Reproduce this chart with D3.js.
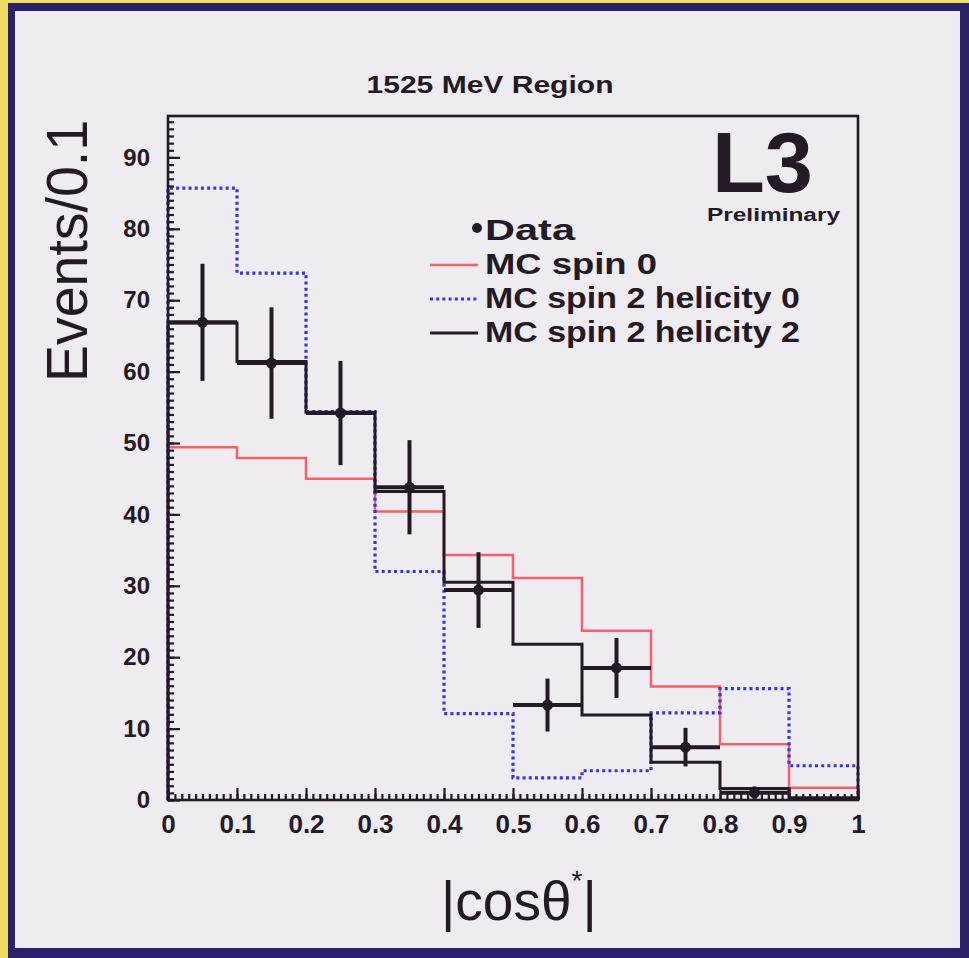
<!DOCTYPE html>
<html>
<head>
<meta charset="utf-8">
<script src="https://cdn.jsdelivr.net/npm/d3@7"></script>
<style>
  html, body { margin: 0; padding: 0; background: #f0dc64; }
  svg { display: block; }
  text { font-family: "Liberation Sans", Arial, Helvetica, sans-serif; fill: #241a25; }
</style>
</head>
<body>
<div id="chart"></div>
<script>
// bins of |cos theta*|, width 0.1
const binLow = [0, 0.1, 0.2, 0.3, 0.4, 0.5, 0.6, 0.7, 0.8, 0.9];
const mcSpin0 = [49.4, 47.9, 45.0, 40.4, 34.3, 31.1, 23.7, 15.9, 7.8, 1.7];
const mcSpin2Hel0 = [85.7, 73.8, 54.4, 32.0, 12.1, 3.1, 4.1, 12.2, 15.6, 4.8];
const mcSpin2Hel2 = [66.8, 61.4, 54.3, 43.2, 30.5, 21.8, 11.9, 5.3, 1.6, 0.3];

// data points (bin centres)
const dataX = [0.05, 0.15, 0.25, 0.35, 0.45, 0.55, 0.65, 0.75, 0.85];
const dataY = [66.9, 61.2, 54.2, 43.8, 29.4, 13.3, 18.5, 7.4, 1.0];
const dataErr = [8.2, 7.8, 7.3, 6.6, 5.3, 3.7, 4.2, 2.7, 0.9];

const xTicks = [0, 0.1, 0.2, 0.3, 0.4, 0.5, 0.6, 0.7, 0.8, 0.9, 1];
const yTicks = [0, 10, 20, 30, 40, 50, 60, 70, 80, 90];

const legendItems = [
  { label: "Data", kind: "dot" },
  { label: "MC spin 0", kind: "red" },
  { label: "MC spin 2 helicity 0", kind: "blue" },
  { label: "MC spin 2 helicity 2", kind: "black" }
];

const W = 969, H = 958;
const INK = "#241a25";
const RED = "#f4606c";
const BLUE = "#3a34e0";

const svg = d3.select("#chart").append("svg")
  .attr("width", W)
  .attr("height", H);

// yellow slide background, navy frame, pale panel
svg.append("rect").attr("width", W).attr("height", H).attr("fill", "#f0dc64");
svg.append("rect").attr("x", 8).attr("y", 3).attr("width", W - 8).attr("height", H - 3).attr("fill", "#2a2268");
svg.append("rect").attr("x", 15).attr("y", 11).attr("width", 945).attr("height", 937).attr("fill", "#eeebf1");

const x = d3.scaleLinear().domain([0, 1]).range([168, 858]);
const y = d3.scaleLinear().domain([0, 95.8]).range([800, 116]);

// title
svg.append("text")
  .attr("x", 490).attr("y", 93)
  .attr("text-anchor", "middle")
  .attr("font-size", 24).attr("font-weight", "bold")
  .attr("textLength", 247).attr("lengthAdjust", "spacingAndGlyphs")
  .text("1525 MeV Region");

const plot = svg.append("g");

// histograms
function histPoints(vals) {
  const pts = [[0, 0]];
  binLow.forEach((b, i) => pts.push([b, vals[i]]));
  pts.push([1, vals[vals.length - 1]]);
  pts.push([1, 0]);
  return pts;
}
const stepLine = d3.line()
  .x(d => x(d[0]))
  .y(d => y(d[1]))
  .curve(d3.curveStepAfter);

plot.append("path")
  .attr("d", stepLine(histPoints(mcSpin0)))
  .attr("fill", "none").attr("stroke", RED).attr("stroke-width", 2.5);

plot.append("path")
  .attr("d", stepLine(histPoints(mcSpin2Hel0)))
  .attr("fill", "none").attr("stroke", BLUE).attr("stroke-width", 3.2)
  .attr("stroke-dasharray", "3,3.2");

plot.append("path")
  .attr("d", stepLine(histPoints(mcSpin2Hel2)))
  .attr("fill", "none").attr("stroke", INK).attr("stroke-width", 3);

// data with error bars
const pts = plot.selectAll("g.pt")
  .data(dataX.map((d, i) => ({ x: d, y: dataY[i], e: dataErr[i] })))
  .join("g").attr("class", "pt");
pts.append("line")
  .attr("x1", d => x(d.x - 0.05)).attr("x2", d => x(d.x + 0.05))
  .attr("y1", d => y(d.y)).attr("y2", d => y(d.y))
  .attr("stroke", INK).attr("stroke-width", 4);
pts.append("line")
  .attr("x1", d => x(d.x)).attr("x2", d => x(d.x))
  .attr("y1", d => y(d.y - d.e)).attr("y2", d => y(d.y + d.e))
  .attr("stroke", INK).attr("stroke-width", 4);
pts.append("circle")
  .attr("cx", d => x(d.x)).attr("cy", d => y(d.y))
  .attr("r", 5.5).attr("fill", INK);

// axes: ticks point into the frame
const gx = svg.append("g").attr("transform", `translate(0,${y(0)})`);
gx.call(d3.axisBottom(x).tickValues(xTicks).tickSize(-12).tickPadding(15)
  .tickFormat(d => d === 0 || d === 1 ? d3.format("d")(d) : d3.format(".1f")(d)));
const gxm = svg.append("g").attr("transform", `translate(0,${y(0)})`);
gxm.call(d3.axisBottom(x).tickValues(d3.range(0, 101).map(i => i / 100)).tickSize(-6).tickFormat(""));

const gy = svg.append("g").attr("transform", `translate(${x(0)},0)`);
gy.call(d3.axisLeft(y).tickValues(yTicks).tickSize(-12).tickPadding(18));
const gym = svg.append("g").attr("transform", `translate(${x(0)},0)`);
gym.call(d3.axisLeft(y).tickValues(d3.range(0, 96)).tickSize(-6).tickFormat(""));

[gx, gxm, gy, gym].forEach(g => {
  g.select(".domain").remove();
  g.selectAll(".tick line").attr("stroke", INK).attr("stroke-width", 2.2);
  g.selectAll(".tick text")
    .attr("font-size", g === gx ? 26 : 24).attr("font-weight", "bold")
    .attr("fill", INK)
    .style("font-family", '"Liberation Sans", Arial, sans-serif');
});

// frame
svg.append("rect")
  .attr("x", x(0)).attr("y", y(95.8))
  .attr("width", x(1) - x(0)).attr("height", y(0) - y(95.8))
  .attr("fill", "none").attr("stroke", INK).attr("stroke-width", 2.6);

// L3 logo
svg.append("text")
  .attr("x", 712).attr("y", 192)
  .attr("font-size", 86).attr("font-weight", "bold")
  .attr("textLength", 101).attr("lengthAdjust", "spacingAndGlyphs")
  .text("L3");
svg.append("text")
  .attr("x", 707).attr("y", 221)
  .attr("font-size", 18).attr("font-weight", "bold")
  .attr("textLength", 133).attr("lengthAdjust", "spacingAndGlyphs")
  .text("Preliminary");

// legend
const legendWidths = [90, 172, 315, 315];
const legendBase = [240, 274, 308, 342];
const leg = svg.append("g");
legendItems.forEach((it, i) => {
  const by = legendBase[i];
  if (it.kind === "dot") {
    leg.append("circle").attr("cx", 477).attr("cy", by - 12).attr("r", 5).attr("fill", INK);
  } else {
    const ln = leg.append("line")
      .attr("x1", 430).attr("x2", 478)
      .attr("y1", by - 9).attr("y2", by - 9);
    if (it.kind === "red") ln.attr("stroke", RED).attr("stroke-width", 2.5);
    if (it.kind === "blue") ln.attr("stroke", BLUE).attr("stroke-width", 3.2).attr("stroke-dasharray", "3,3.2");
    if (it.kind === "black") ln.attr("stroke", INK).attr("stroke-width", 3);
  }
  leg.append("text")
    .attr("x", 485).attr("y", by)
    .attr("font-size", 29).attr("font-weight", "bold")
    .attr("textLength", legendWidths[i]).attr("lengthAdjust", "spacingAndGlyphs")
    .text(it.label);
});

// axis titles
svg.append("text")
  .attr("transform", "translate(87,251) rotate(-90)")
  .attr("text-anchor", "middle")
  .attr("font-size", 58)
  .attr("textLength", 262).attr("lengthAdjust", "spacingAndGlyphs")
  .text("Events/0.1");

const xt = svg.append("text")
  .attr("x", 441).attr("y", 920)
  .attr("font-size", 55);
xt.append("tspan").text("|cosθ");
xt.append("tspan").attr("dy", -30).attr("font-size", 28).text("*");
xt.append("tspan").attr("dy", 30).text("|");
</script>
</body>
</html>
